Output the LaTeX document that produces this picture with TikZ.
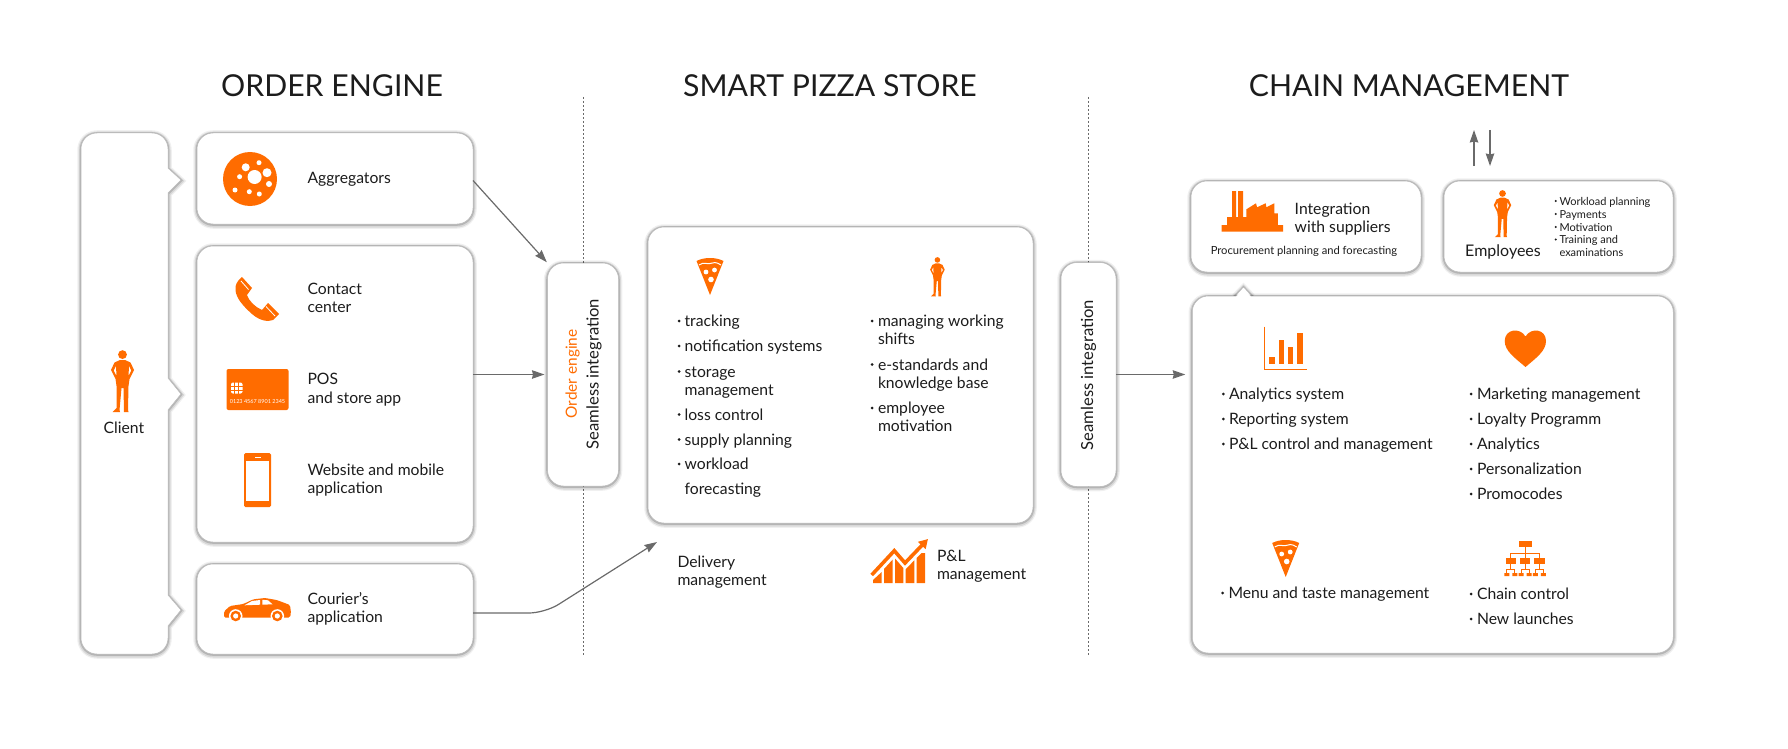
\documentclass[tikz,border=0pt]{standalone}
\usepackage{fontspec}
\setmainfont{Lato}
\usetikzlibrary{arrows.meta}
\definecolor{brand}{HTML}{FF6C00}
\definecolor{ink}{HTML}{1C1C1C}
\definecolor{flowgray}{HTML}{6A6A6A}
\tikzset{
	x=1pt,y=-1pt,
	every node/.style={inner sep=0,outer sep=0,text=ink},
	softshadow/.style={
		preaction={draw=black,opacity=.06,line width=7.5pt,transform canvas={yshift=-1pt}},
		preaction={draw=black,opacity=.10,line width=5pt,transform canvas={yshift=-1pt}},
		preaction={draw=black,opacity=.16,line width=2.6pt,transform canvas={yshift=-.5pt}}
	},
	card/.style={softshadow,draw=black!28,line width=.5pt,fill=white,rounded corners=16},
	shell/.style={softshadow,draw=black!28,line width=.5pt,fill=white},
	flow/.style={draw=flowgray,line width=1.2pt,-{Stealth[length=12.5pt,width=8.5pt,inset=1pt]}},
	divider/.style={draw=flowgray,line width=1pt,dash pattern=on 2pt off 2pt},
	heading/.style={font=\fontsize{30.2}{32}\selectfont},
	lbl/.style={anchor=west,font=\fontsize{15.7}{18}\selectfont,text height=11pt,text depth=0pt},
	small/.style={lbl,font=\fontsize{11}{13}\selectfont,text height=8pt,text depth=0pt},
	person/.pic={
		\fill[brand] (0,4.6) circle (4.4);
		\fill[brand,even odd rule] (-2.5,10) -- (2.5,10) -- (8,12.5) -- (11.5,20) -- (7,29) -- (6,36) -- (5.5,60) -- (6,62) -- (1.5,62) -- (1,38) -- (-1,38) -- (-3,60) -- (-2.5,62) -- (-10,62) -- (-6,58) -- (-6,36) -- (-7,29) -- (-11.5,20) -- (-8,12.5) -- cycle
			(6.5,16) -- (8.8,20.5) -- (6,26) -- cycle (-6.5,16) -- (-8.8,20.5) -- (-6,26) -- cycle;
	},
	pizza/.pic={
		\fill[brand] (-13.5,3) .. controls (-6,-1) and (6,-1) .. (13.5,3) -- (0,37) -- cycle;
		\draw[white,line width=1pt] (-11,7) .. controls (-6,3.5) and (-3,6.5) .. (0,5.5) .. controls (3,4.5) and (6,3.5) .. (11,7);
		\fill[white] (-4,14) circle (2.4) (4.5,12) circle (2.4) (1,21.5) circle (2.8);
	}
}
\begin{document}
\begin{tikzpicture}
\useasboundingbox (0,0) rectangle (1788,749);

\coordinate (dividerAtop) at (583,97);
\coordinate (dividerAbot) at (583,656);
\coordinate (dividerBtop) at (1088.5,97);
\coordinate (dividerBbot) at (1088.5,656);
\draw[divider] (dividerAtop) -- (dividerAbot);
\draw[divider] (dividerBtop) -- (dividerBbot);

\node[heading] (titleorder) at (332,86) {ORDER ENGINE};
\node[heading] (titlestore) at (830,86) {SMART PIZZA STORE};
\node[heading] (titlechain) at (1409,86) {CHAIN MANAGEMENT};

\draw[shell] (97,133) -- (152,133) .. controls (161,133) and (168,140) .. (168,149) -- (168,168) -- (181,180) -- (168,193) -- (168,378) -- (181,394) -- (168,410) -- (168,595) -- (181,610) -- (168,626) -- (168,638) .. controls (168,647) and (161,654) .. (152,654) -- (97,654) .. controls (88,654) and (81,647) .. (81,638) -- (81,149) .. controls (81,140) and (88,133) .. (97,133) -- cycle;
\pic at (122.5,350) {person};
\node[font=\fontsize{15.7}{18}\selectfont] (client) at (124,428) {Client};

\node[card,minimum width=276,minimum height=91] (aggregators) at (335,178.5) {};
\node[card,minimum width=276,minimum height=296] (contact) at (335,394) {};
\node[card,minimum width=276,minimum height=90] (courier) at (335,609) {};
\node[card,minimum width=71,minimum height=223] (orderlink) at (583,374.5) {};
\node[card,minimum width=385,minimum height=296] (store) at (840.5,375) {};
\node[card,minimum width=55,minimum height=224] (seamlink) at (1088.5,374.5) {};
\node[card,minimum width=230,minimum height=91] (suppliers) at (1306,226.5) {};
\node[card,minimum width=229,minimum height=91] (employees) at (1558.5,226.5) {};
\draw[shell] (1235,296) -- (1243.5,287) -- (1252,296);
\node[card,minimum width=481,minimum height=357] (chain) at (1432.75,474.5) {};
\fill[white] (1236,297) -- (1243.5,288) -- (1251,297) -- cycle;

\coordinate (courierout) at (473,613);
\coordinate (courierbend) at (545,613);
\coordinate (deliverytip) at (657,542);
\coordinate (uptail) at (1474,166);
\coordinate (uphead) at (1474,130);
\coordinate (downtail) at (1490,130);
\coordinate (downhead) at (1490,166);
\draw[flow,shorten >=1pt] (aggregators.east) ++(0,2) -- (orderlink.north west);
\draw[flow,shorten >=3pt] (contact.east |- orderlink.west) -- (orderlink.west);
\draw[flow,rounded corners=16] (courierout) -- (courierbend) -- (deliverytip);
\draw[flow,shorten >=7pt] (seamlink.east) -- (seamlink.east -| chain.west);
\draw[flow] (uptail) -- (uphead);
\draw[flow] (downtail) -- (downhead);

\fill[brand] (250,179) circle (27);
\fill[white] (254.6,177) circle (7) (245.7,167.3) circle (4) (259,162.7) circle (2.5) (267,172.7) circle (4.5) (239.6,176.7) circle (2.5) (269,184) circle (3) (235,190) circle (2.5) (249.3,191.7) circle (2.5) (259.3,194) circle (2.5);
\node[lbl] (aggtext) at (307.5,178) {Aggregators};

\fill[brand] (242,277) -- (252,288) -- (247,295) .. controls (249,301) and (255,307) .. (262,310) -- (268,303) -- (279,314) -- (273,320) .. controls (268,322) and (260,321) .. (252,314) .. controls (243,306) and (236,298) .. (235.5,290) .. controls (235,285) and (237,281) .. (242,277) -- cycle;
\draw[white,line width=.8pt] (241,281) -- (248.5,289.5) (266,306.5) -- (275,316);
\node[lbl] (contactA) at (307.5,289) {Contact};
\node[lbl] (contactB) at (307.5,307) {center};

\fill[brand,rounded corners=2] (226.5,369) rectangle (288.5,410);
\fill[white,rounded corners=2] (231,382.5) rectangle (242.5,393.5);
\draw[brand,line width=.7pt] (234.8,382) -- (234.8,394) (238.6,382) -- (238.6,394) (231,386.2) -- (242.5,386.2) (231,390) -- (242.5,390);
\node[font=\fontsize{5.5}{6}\selectfont,text=white] (cardnum) at (257.5,402) {0123 4567 8901 2345};
\node[lbl] (posA) at (307.5,379) {POS};
\node[lbl] (posB) at (307.5,398) {and store app};

\fill[brand,rounded corners=1.5] (244,453) rectangle (271,507);
\fill[white] (246,461) rectangle (269,500.5);
\draw[white,line width=1pt] (255,457) -- (260.5,457);
\node[lbl] (webA) at (307.5,470) {Website and mobile};
\node[lbl] (webB) at (307.5,488) {application};

\fill[brand,rounded corners=1.5] (224,617.5) -- (224,611.5) -- (230,606) -- (243.3,604) -- (253.3,599.3) -- (265,598) -- (276.7,600) -- (290,605) -- (291,613) -- (290,617.5) -- cycle;
\fill[white] (244.5,605.3) -- (252,601) -- (260,600) -- (260,604.7) -- cycle (262.3,599.8) -- (268,600.3) -- (272.5,604.3) -- (262.3,604.7) -- cycle;
\foreach \wheelx in {235.7,277.3} {
	\fill[white] (\wheelx,616) circle (6.8);
	\fill[brand] (\wheelx,616) circle (5.3);
	\fill[white] (\wheelx,616) circle (2.6);
}
\node[lbl] (courA) at (307.5,599) {Courier's};
\node[lbl] (courB) at (307.5,617) {application};

\node[font=\fontsize{15.4}{18}\selectfont,text=brand,rotate=90] (orderword) at (572.5,374) {Order engine};
\node[font=\fontsize{16.6}{18}\selectfont,rotate=90] (seamA) at (594,374) {Seamless integration};
\node[font=\fontsize{16.6}{18}\selectfont,rotate=90] (seamB) at (1088.5,375) {Seamless integration};

\pic at (710,258) {pizza};
\pic[scale=.634] at (937.4,257) {person};
\foreach \ypos/\txt [count=\n] in {321/tracking,346/notification systems,371.5/storage,414.5/loss control,439.5/supply planning,464/workload} {
	\fill[ink] (679,\ypos) circle (1.5);
	\node[lbl] (storeL\n) at (684.6,\ypos) {\txt};
}
\node[lbl] (storeLa) at (684.6,389.5) {management};
\node[lbl] (storeLb) at (684.6,489) {forecasting};
\foreach \ypos/\txt [count=\n] in {321/managing working,364.5/e-standards and,408/employee} {
	\fill[ink] (872,\ypos) circle (1.5);
	\node[lbl] (storeR\n) at (878,\ypos) {\txt};
}
\node[lbl] (storeRa) at (878,339) {shifts};
\node[lbl] (storeRb) at (878,382.5) {knowledge base};
\node[lbl] (storeRc) at (878,426) {motivation};
\node[lbl] (deliveryA) at (677.5,562) {Delivery};
\node[lbl] (deliveryB) at (677.5,580) {management};

\foreach \barx/\barw/\topl/\topr in {873/8.7/580/572,884/8.7/569/559.5,895/8.3/558.5/568,905.7/8.6/569.3/560.3} {
	\fill[brand] (\barx,583) -- (\barx,\topl) -- (\barx+\barw,\topr) -- (\barx+\barw,583) -- cycle;
}
\fill[brand] (916.7,583) -- (916.7,558) -- (921.5,553) -- (925,553) -- (925,583) -- cycle;
\draw[brand,line width=3.6pt,-{Triangle[length=9pt,width=10pt]}] (871.7,575) -- (894.3,550.7) -- (905,563) -- (928,539);
\node[lbl] (plA) at (937,556) {P\&L};
\node[lbl] (plB) at (937,574) {management};

\fill[brand] (1221.6,231.7) -- (1221.6,225) -- (1227,225) -- (1227,217) -- (1232,217) -- (1232,191) -- (1236,191) -- (1236,217) -- (1238,217) -- (1238,191) -- (1243,191) -- (1243,217) -- (1246.4,217) -- (1246.4,209.3) -- (1256,203.3) -- (1257,207.3) -- (1265.7,203.3) -- (1266.4,207.3) -- (1274.3,203.3) -- (1274.3,213.3) -- (1277.8,213.3) -- (1277.8,225) -- (1283,225) -- (1283,231.7) -- cycle;
\node[lbl] (suppA) at (1294.7,209) {Integration};
\node[lbl] (suppB) at (1294.7,227) {with suppliers};
\node[font=\fontsize{11.2}{14}\selectfont] (suppC) at (1304,251.5) {Procurement planning and forecasting};

\pic[scale=.76] at (1502.5,190) {person};
\node[font=\fontsize{16}{18}\selectfont] (empl) at (1503,252) {Employees};
\foreach \ypos/\txt [count=\n] in {201/Workload planning,214/Payments,227/Motivation,239.5/Training and} {
	\fill[ink] (1555.7,\ypos) circle (1.1);
	\node[small] (emplL\n) at (1559.5,\ypos) {\txt};
}
\node[small] (emplLa) at (1559.5,252) {examinations};

\draw[brand,line width=.9pt] (1264.7,326.7) -- (1264.7,369) -- (1306.7,369);
\foreach \barx/\bartop/\barw in {1269/356.7/6,1278.5/340/5.8,1288/346.7/5,1296.7/333/6.2} {
	\fill[brand] (\barx,\bartop) rectangle (\barx+\barw,364);
}
\foreach \ypos/\txt [count=\n] in {394/Analytics system,419/Reporting system,444/P\&L control and management} {
	\fill[ink] (1223.4,\ypos) circle (1.5);
	\node[lbl] (chainA\n) at (1229,\ypos) {\txt};
}

\fill[brand] (1525.5,367) .. controls (1515,358) and (1504.7,351) .. (1504.7,341) .. controls (1504.7,329) and (1520,327) .. (1525.5,336.5) .. controls (1531,327) and (1546,329) .. (1546,341) .. controls (1546,351) and (1536,358) .. (1525.5,367) -- cycle;
\foreach \ypos/\txt [count=\n] in {394/Marketing management,419/Loyalty Programm,444/Analytics,469/Personalization,494/Promocodes} {
	\fill[ink] (1471,\ypos) circle (1.5);
	\node[lbl] (chainB\n) at (1477,\ypos) {\txt};
}

\pic at (1285.7,540) {pizza};
\fill[ink] (1222.5,593) circle (1.5);
\node[lbl] (chainC) at (1228.5,593) {Menu and taste management};

\fill[brand] (1518.5,540.7) rectangle (1531.6,547);
\draw[brand,line width=.8pt] (1525,547) -- (1525,558) (1510.8,558) -- (1510.8,553) -- (1539.3,553) -- (1539.3,558);
\foreach \orgx in {1510.8,1525,1539.3} {
	\fill[brand] (\orgx-5.3,558) rectangle (\orgx+5.3,564);
	\draw[brand,line width=.7pt] (\orgx,564) -- (\orgx,569) (\orgx-4,573) -- (\orgx-4,569) -- (\orgx+4,569) -- (\orgx+4,573);
	\fill[brand] (\orgx-6.5,573) rectangle (\orgx-1.5,576) (\orgx+1.5,573) rectangle (\orgx+6.5,576);
}
\foreach \ypos/\txt [count=\n] in {594/Chain control,619/New launches} {
	\fill[ink] (1471,\ypos) circle (1.5);
	\node[lbl] (chainD\n) at (1477,\ypos) {\txt};
}

\end{tikzpicture}
\end{document}
